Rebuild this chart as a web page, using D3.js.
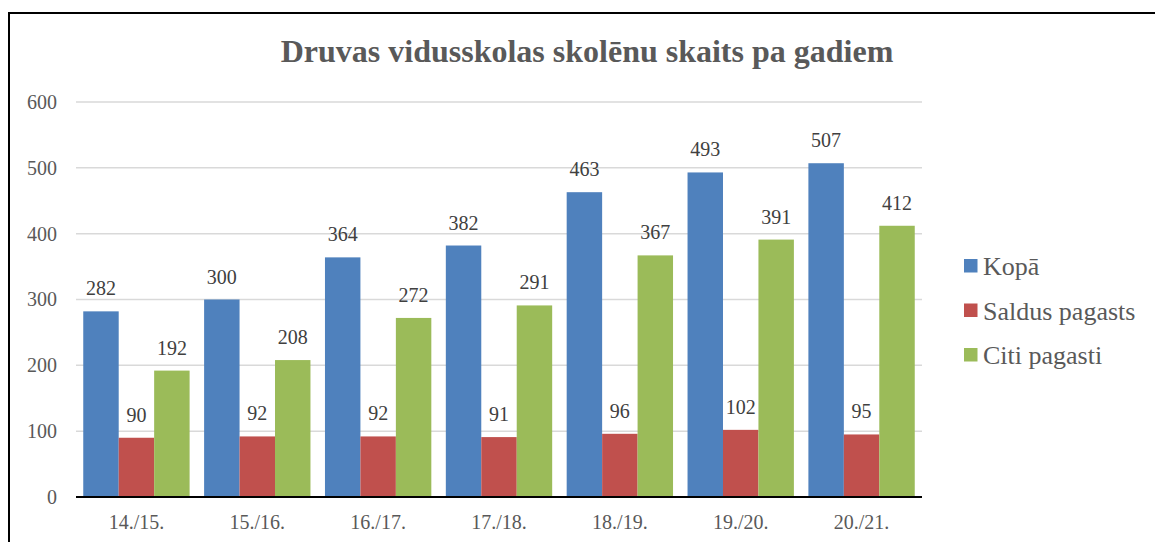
<!DOCTYPE html>
<html><head><meta charset="utf-8">
<script src="https://cdnjs.cloudflare.com/ajax/libs/d3/7.8.5/d3.min.js"></script>
<style>body{margin:0;background:#fff}svg{display:block}svg text{font-family:"Liberation Serif","Times New Roman",serif}</style>
</head><body>
<svg id="c" width="1155" height="542"></svg>
<script>
const title = "Druvas vidusskolas skolēnu skaits pa gadiem";
const categories = ["14./15.","15./16.","16./17.","17./18.","18./19.","19./20.","20./21."];
const seriesNames = ["Kopā","Saldus pagasts","Citi pagasti"];
const kopa = [282,300,364,382,463,493,507];
const saldus = [90,92,92,91,96,102,95];
const citi = [192,208,272,291,367,391,412];
const yTicks = [0,100,200,300,400,500,600];
const colors = ["#4F81BD","#C0504D","#9BBB59"];
const seriesValues = [kopa, saldus, citi];

const svg = d3.select("#c");
const font = '"Liberation Serif","Times New Roman",serif';
const textColor = "#595959";

// outer border
svg.append("path").attr("d","M9,542 V13 H1155").attr("fill","none").attr("stroke","#000").attr("stroke-width",2);

const x = d3.scaleBand().domain(categories).range([76,922]).paddingInner(0.12).paddingOuter(0.06);
const xs = d3.scaleBand().domain(seriesNames).range([0,x.bandwidth()]);
const y = d3.scaleLinear().domain([0,600]).range([497,102]);

// gridlines
svg.append("g").selectAll("line").data(yTicks.filter(d=>d>0)).join("line")
  .attr("x1",76).attr("x2",922).attr("y1",d=>y(d)).attr("y2",d=>y(d))
  .attr("stroke","#d9d9d9").attr("stroke-width",1.5);

// y axis labels
const yAxis = d3.axisLeft(y).tickValues(yTicks).tickSize(0).tickPadding(0).tickFormat(d3.format("d"));
const ya = svg.append("g").attr("transform","translate(57,0)").call(yAxis);
ya.attr("font-family",null).attr("font-size",null);
ya.select(".domain").remove();
ya.selectAll("text").style("font-family",font).style("font-size","20px").attr("fill",textColor).attr("dy","0.32em");

// bars
const groups = svg.append("g").selectAll("g").data(categories).join("g")
  .attr("transform",d=>`translate(${x(d)},0)`);
groups.selectAll("rect").data((c,i)=>seriesNames.map((s,j)=>({s,v:seriesValues[j][i],j}))).join("rect")
  .attr("x",d=>xs(d.s)).attr("width",xs.bandwidth())
  .attr("y",d=>y(d.v)).attr("height",d=>y(0)-y(d.v))
  .attr("fill",d=>colors[d.j]);
groups.selectAll("text").data((c,i)=>seriesNames.map((s,j)=>({s,v:seriesValues[j][i],j}))).join("text")
  .attr("x",d=>xs(d.s)+xs.bandwidth()/2).attr("y",d=>y(d.v)-16)
  .attr("text-anchor","middle").style("font-family",font).style("font-size","20px").attr("fill","#404040")
  .text(d=>d.v);

// x axis
const xAxis = d3.axisBottom(x).tickSize(0).tickPadding(0);
const xa = svg.append("g").attr("transform",`translate(0,${y(0)})`).call(xAxis);
xa.attr("font-family",null).attr("font-size",null);
xa.select(".domain").remove();
xa.selectAll("text").style("font-family",font).style("font-size","20px").attr("fill",textColor).attr("dy",null).attr("y",32);
svg.append("line").attr("x1",76).attr("x2",922).attr("y1",y(0)).attr("y2",y(0)).attr("stroke","#000").attr("stroke-width",2);

// title
svg.append("text").attr("x",587).attr("y",62).attr("text-anchor","middle")
  .style("font-family",font).style("font-size","32px").attr("font-weight","bold").attr("fill",textColor).text(title);

// legend
const lg = svg.append("g").selectAll("g").data(seriesNames).join("g")
  .attr("transform",(d,i)=>`translate(964,${275+i*44.5})`);
lg.append("rect").attr("x",0).attr("y",-16).attr("width",13.5).attr("height",13.5).attr("fill",(d,i)=>colors[i]);
lg.append("text").attr("x",19).attr("y",0).style("font-family",font).style("font-size","26px").attr("fill",textColor).text(d=>d);
</script>
</body></html>
